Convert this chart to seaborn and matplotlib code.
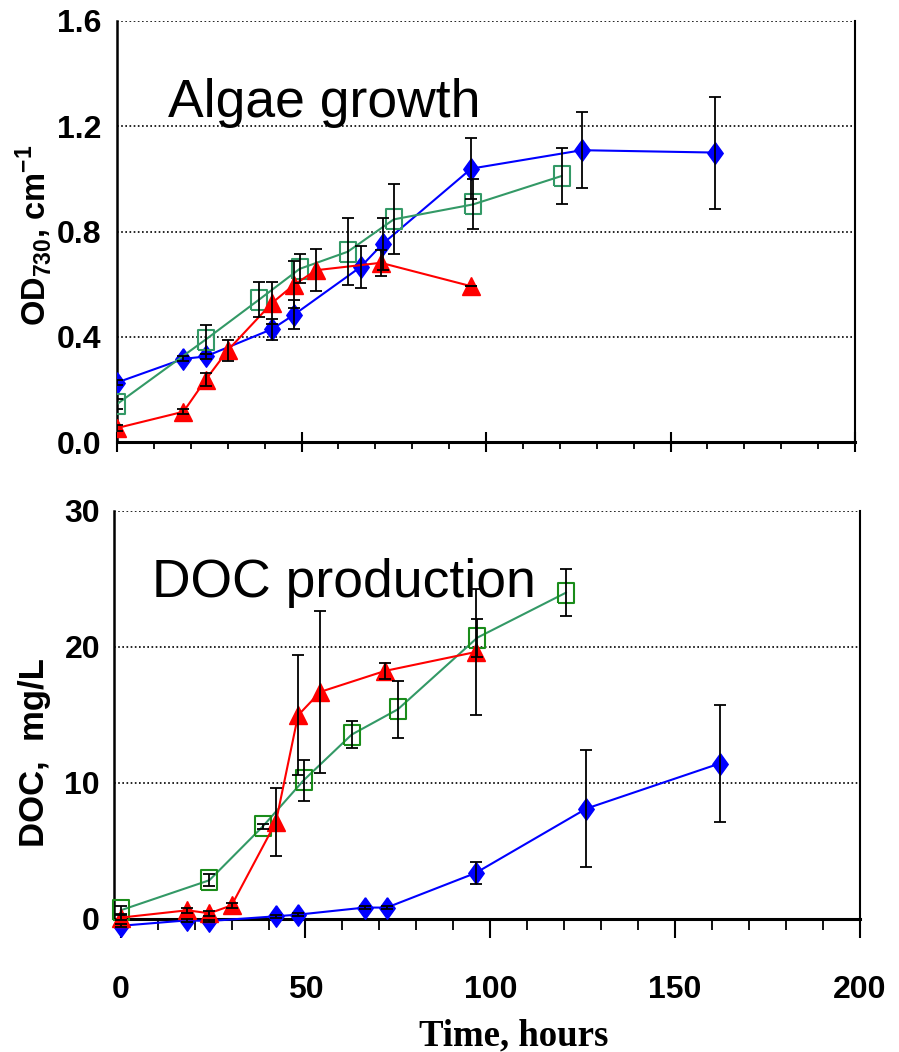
import matplotlib
matplotlib.use("Agg")
import matplotlib.pyplot as plt
import seaborn as sns
import numpy as np
from matplotlib.ticker import MultipleLocator, FormatStrFormatter

# ---------------- data ----------------
blue_t = [0, 18, 24, 42, 48, 66, 72, 96, 126, 162]
green_t = [0, 24, 38.5, 49.5, 62.5, 75, 96.5, 120.5]
red_t = [0, 18, 24, 30, 42, 48, 54, 71.5, 96]

# Algae growth, OD730 (cm-1)
od_blue = [0.226, 0.316, 0.325, 0.429, 0.484, 0.665, 0.753, 1.039, 1.109, 1.100]
od_blue_err = [0.01, 0.01, 0.01, 0.04, 0.055, 0.08, 0.10, 0.115, 0.145, 0.213]
od_green = [0.144, 0.389, 0.541, 0.658, 0.723, 0.846, 0.903, 1.011]
od_green_err = [0.02, 0.055, 0.067, 0.055, 0.128, 0.133, 0.095, 0.107]
od_red = [0.053, 0.115, 0.236, 0.348, 0.528, 0.598, 0.653, 0.681, 0.592]
od_red_err = [0.01, 0.01, 0.025, 0.04, 0.08, 0.09, 0.08, 0.05, 0.0]

# DOC production (mg/L)
doc_blue = [-0.5, -0.1, -0.15, 0.2, 0.32, 0.84, 0.84, 3.38, 8.12, 11.43]
doc_blue_err = [0.1, 0.1, 0.1, 0.1, 0.1, 0.1, 0.1, 0.8, 4.3, 4.3]
doc_green = [0.64, 2.85, 6.82, 10.2, 13.56, 15.42, 20.69, 24.0]
doc_green_err = [0.3, 0.45, 0.2, 1.5, 1.0, 2.1, 1.4, 1.75]
doc_red = [0.1, 0.64, 0.42, 1.0, 7.13, 14.98, 16.7, 18.24, 19.63]
doc_red_err = [0.2, 0.2, 0.2, 0.2, 2.5, 4.4, 5.95, 0.6, 4.6]

od_ticks = [0.0, 0.4, 0.8, 1.2, 1.6]
doc_ticks = [0, 10, 20, 30]
time_ticks = [0, 50, 100, 150, 200]

# ---------------- style ----------------
sns.set_style("white")
plt.rcParams["font.family"] = ["Liberation Sans", "DejaVu Sans"]
plt.rcParams["mathtext.fontset"] = "custom"
plt.rcParams["mathtext.rm"] = "Liberation Sans"
plt.rcParams["mathtext.bf"] = "Liberation Sans:bold"
for k in ("text.color", "axes.labelcolor", "xtick.color", "ytick.color", "axes.edgecolor"):
    plt.rcParams[k] = "black"

BLUE = "#0000ff"
RED = "#ff0000"
GREEN_LINE = "#339966"
GREEN_EDGE_TOP = "#339966"
GREEN_EDGE_BOT = "#1a8c1a"

diamond = [(0, 0.5), (0.36, 0), (0, -0.5), (-0.36, 0), (0, 0.5)]
square = [(-0.4, -0.5), (0.4, -0.5), (0.4, 0.5), (-0.4, 0.5), (-0.4, -0.5)]

W, H = 899, 1052
fig = plt.figure(figsize=(W / 100, H / 100), dpi=100)

ax1 = fig.add_axes([117 / W, 1 - 442 / H, 738 / W, 421 / H])
ax2 = fig.add_axes([114 / W, 1 - 919 / H, 746 / W, 408 / H])


def draw(ax, t, y, err, color, marker, ms, mfc, mec, mew=1.0, clip=True):
    sns.lineplot(x=t, y=y, ax=ax, color=color, marker=marker, markersize=ms,
                 markerfacecolor=mfc, markeredgecolor=mec, markeredgewidth=mew,
                 linewidth=1.5, sort=False, estimator=None, clip_on=clip,
                 zorder=3, legend=False)
    ax.errorbar(t, y, yerr=err, fmt="none", ecolor="black", elinewidth=1.3,
                capsize=4, capthick=1.3, zorder=4, clip_on=clip)


# top panel
draw(ax1, blue_t, od_blue, od_blue_err, BLUE, diamond, 15.5, BLUE, BLUE)
draw(ax1, green_t, od_green, od_green_err, GREEN_LINE, square, 14, "none", GREEN_EDGE_TOP, 1.5)
draw(ax1, red_t, od_red, od_red_err, RED, "^", 13, RED, RED)

# bottom panel
draw(ax2, blue_t, doc_blue, doc_blue_err, BLUE, diamond, 15.5, BLUE, BLUE, clip=False)
draw(ax2, green_t, doc_green, doc_green_err, GREEN_LINE, square, 14, "none", GREEN_EDGE_BOT, 1.5, clip=False)
draw(ax2, red_t, doc_red, doc_red_err, RED, "^", 13, RED, RED, clip=False)

for ax in (ax1, ax2):
    ax.set_xlabel("")
    ax.set_ylabel("")
    ax.yaxis.grid(True, linestyle=(0, (1, 1.5)), color="black", linewidth=1.2)
    ax.xaxis.grid(False)
    ax.spines["top"].set_visible(False)
    ax.spines["left"].set_linewidth(1.8)
    ax.spines["bottom"].set_linewidth(2.2)
    ax.spines["right"].set_linewidth(1.5)
    for s in ax.spines.values():
        s.set_color("black")
    ax.set_xticks(time_ticks)
    ax.xaxis.set_minor_locator(MultipleLocator(10))
    ax.tick_params(axis="y", length=0, labelsize=23, labelcolor="black")

# top axes
ax1.set_xlim(0, 200)
ax1.set_ylim(0, 1.6)
ax1.set_yticks(od_ticks)
ax1.yaxis.set_major_formatter(FormatStrFormatter("%.1f"))
ax1.tick_params(axis="y", pad=11, labelsize=23)
ax1.tick_params(axis="x", which="major", direction="inout", length=14, width=1.5,
                labelbottom=False, bottom=True, color="black")
ax1.tick_params(axis="x", which="minor", direction="out", length=5, width=1.3,
                bottom=True, color="black")
for lab in ax1.get_yticklabels():
    lab.set_fontweight("bold")

# bottom axes
ax2.set_xlim(-1.8, 200)
ax2.set_ylim(0, 30)
ax2.set_yticks(doc_ticks)
ax2.tick_params(axis="y", pad=10, labelsize=23)
ax2.tick_params(axis="x", which="major", direction="out", length=14, width=1.5,
                labelsize=23, pad=26, bottom=True, color="black", labelcolor="black")
ax2.tick_params(axis="x", which="minor", direction="out", length=8, width=1.3,
                bottom=True, color="black")
for lab in ax2.get_yticklabels() + ax2.get_xticklabels():
    lab.set_fontweight("bold")

# panel titles
fig.text(168 / W, 1 - 117 / H, "Algae growth", fontsize=38.5, ha="left",
         va="baseline", color="black")
fig.text(152 / W, 1 - 597 / H, "DOC production", fontsize=38.5, ha="left",
         va="baseline", color="black")

# axis labels
fig.text(34 / W, 1 - 235 / H, r"OD$_{\mathbf{730}}$, cm$^{\mathbf{-1}}$", rotation=90,
         ha="center", va="center", fontsize=23.5, fontweight="bold", color="black")
fig.text(35 / W, 1 - 753 / H, "DOC,  mg/L", rotation=90, ha="center", va="center",
         fontsize=25, fontweight="bold", color="black")
fig.text(514 / W, 1 - 1045 / H, "Time, hours", ha="center", va="baseline",
         fontsize=26.5, fontweight="bold", color="black",
         family=["Liberation Serif", "DejaVu Serif"])

fig.savefig("out.png", dpi=100)
